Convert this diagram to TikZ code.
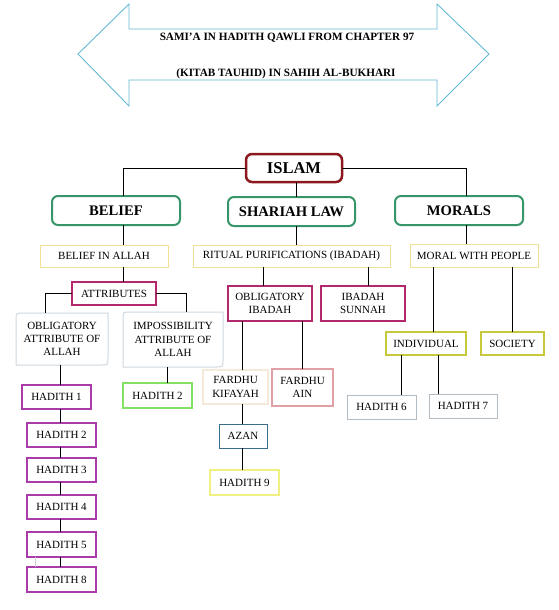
\documentclass[tikz,border=0pt]{standalone}
\usepackage{fontspec}
\setmainfont{Liberation Serif}

\definecolor{arrowblue}{RGB}{100,185,212}
\definecolor{islamred}{RGB}{140,25,30}
\definecolor{headgreen}{RGB}{55,150,105}
\definecolor{paleyellow}{RGB}{240,225,150}
\definecolor{attrpink}{RGB}{180,40,110}
\definecolor{palegray}{RGB}{205,216,224}
\definecolor{hadithpurple}{RGB}{170,60,170}
\definecolor{brightgreen}{RGB}{130,225,100}
\definecolor{peach}{RGB}{245,233,215}
\definecolor{salmon}{RGB}{225,160,165}
\definecolor{azanblue}{RGB}{60,110,140}
\definecolor{lemon}{RGB}{240,240,130}
\definecolor{olive}{RGB}{200,200,60}
\definecolor{steel}{RGB}{180,188,195}

\begin{document}
\begin{tikzpicture}[x=1pt, y=-1pt,
  every node/.style={inner sep=0pt, outer sep=0pt, align=center, font=\fontsize{11}{13.3}\selectfont},
  box/.style={below right, draw, line width=1pt},
  headbox/.style={box, draw=headgreen, line width=2pt, rounded corners=6pt, font=\fontsize{14.6}{16}\selectfont\bfseries},
  link/.style={line width=0.9pt, black},
  hadith/.style={box, draw=hadithpurple, line width=1.2pt, minimum width=69pt, minimum height=24pt}]

\useasboundingbox (0,0) rectangle (558,610);

% Title double arrow
\draw[arrowblue, line width=0.9pt, line join=miter] (78,54) -- (129,4) -- (129,29) -- (437,29) -- (437,4) -- (489,54) -- (437,106) -- (437,80) -- (129,80) -- (129,106) -- cycle;
\node[anchor=base, font=\fontsize{11.2}{13}\selectfont\bfseries] (title1) at (287,41) {SAMI’A IN HADITH QAWLI FROM CHAPTER 97};
\node[anchor=base, font=\fontsize{11.2}{13}\selectfont\bfseries] (title2) at (286,77) {(KITAB TAUHID) IN SAHIH AL-BUKHARI};

% Top box
\node[box, draw=islamred, line width=2.5pt, rounded corners=6pt, minimum width=96pt, minimum height=28pt, font=\fontsize{16.5}{18}\selectfont\bfseries] (islam) at (246,154) {ISLAM};

% Three headings
\node[headbox, minimum width=128pt, minimum height=29pt] (belief) at (52,196) {BELIEF};
\node[headbox, minimum width=127pt, minimum height=29pt] (shariah) at (228,197) {SHARIAH LAW};
\node[headbox, minimum width=128pt, minimum height=29pt] (morals) at (395,196) {MORALS};

% Yellow second row
\node[box, draw=paleyellow, minimum width=128pt, minimum height=22pt] (allah) at (40,245) {BELIEF IN ALLAH};
\node[box, draw=paleyellow, minimum width=197pt, minimum height=22pt] (ritual) at (193,245) {RITUAL PURIFICATIONS (IBADAH)};
\node[box, draw=paleyellow, minimum width=128pt, minimum height=23pt] (people) at (410,244) {MORAL WITH PEOPLE};

% Belief branch
\node[box, draw=attrpink, line width=2pt, minimum width=84pt, minimum height=23pt] (attrib) at (72,282) {ATTRIBUTES};
\node[below right, minimum width=92pt, minimum height=52pt] (wajib) at (16,313) {OBLIGATORY\\ATTRIBUTE OF\\ALLAH};
\node[below right, minimum width=100pt, minimum height=55pt] (mustahil) at (123,312) {IMPOSSIBILITY\\ATTRIBUTE OF\\ALLAH};
\draw[palegray, line width=1pt] ([xshift=7pt]wajib.north west) -- (wajib.north east) -- ([yshift=7pt]wajib.south east) .. controls (wajib.south east) .. ([xshift=-7pt]wajib.south east) -- (wajib.south west) -- ([yshift=-7pt]wajib.north west) .. controls (wajib.north west) .. ([xshift=7pt]wajib.north west);
\draw[palegray, line width=1pt] ([xshift=7pt]mustahil.north west) -- (mustahil.north east) -- ([yshift=7pt]mustahil.south east) .. controls (mustahil.south east) .. ([xshift=-7pt]mustahil.south east) -- (mustahil.south west) -- ([yshift=-7pt]mustahil.north west) .. controls (mustahil.north west) .. ([xshift=7pt]mustahil.north west);

\node[hadith] (h1) at (22,385) {HADITH 1};
\node[hadith] (h2) at (27,423) {HADITH 2};
\node[hadith] (h3) at (27,458) {HADITH 3};
\node[hadith] (h4) at (27,495) {HADITH 4};
\node[hadith, minimum height=25pt] (h5) at (27,532) {HADITH 5};
\node[hadith, minimum height=25pt] (h8) at (27,567) {HADITH 8};
\node[box, draw=brightgreen, line width=2pt, minimum width=69pt, minimum height=25pt] (h2r) at (123,383) {HADITH 2};

% Shariah branch
\node[box, draw=attrpink, line width=2pt, minimum width=84pt, minimum height=35pt] (oblig) at (228,286) {OBLIGATORY\\IBADAH};
\node[box, draw=attrpink, line width=2pt, minimum width=84pt, minimum height=35pt] (sunnah) at (321,286) {IBADAH\\SUNNAH};
\node[box, draw=peach, line width=2pt, minimum width=65pt, minimum height=34pt] (kifayah) at (203,370) {FARDHU\\KIFAYAH};
\node[box, draw=salmon, line width=2pt, minimum width=61pt, minimum height=37pt] (ain) at (272,369) {FARDHU\\AIN};
\node[box, draw=azanblue, minimum width=48pt, minimum height=24pt] (azan) at (219,424) {AZAN};
\node[box, draw=lemon, line width=1.5pt, minimum width=69pt, minimum height=25pt] (h9) at (210,470) {HADITH 9};

% Morals branch
\node[box, draw=olive, line width=2pt, minimum width=80pt, minimum height=23pt] (indiv) at (386,332) {INDIVIDUAL};
\node[box, draw=olive, line width=2pt, minimum width=63pt, minimum height=23pt] (society) at (481,332) {SOCIETY};
\node[box, draw=steel, minimum width=69pt, minimum height=24pt] (h6) at (347,395) {HADITH 6};
\node[box, draw=steel, minimum width=68pt, minimum height=24pt] (h7) at (429,394) {HADITH 7};

% Columns of the connectors
\coordinate (cb) at (123,0);
\coordinate (cl) at (45,0);
\coordinate (cr) at (186,0);
\coordinate (ch) at (60,0);
\coordinate (ci) at (167,0);
\coordinate (cs) at (296,0);
\coordinate (co) at (263,0);
\coordinate (cu) at (368,0);
\coordinate (ck) at (242,0);
\coordinate (ca) at (302,0);
\coordinate (cm) at (466,0);
\coordinate (cv) at (433,0);
\coordinate (cy) at (512,0);
\coordinate (c6) at (401,0);
\coordinate (c7) at (438,0);
\coordinate (cg) at (35,0);

% Connectors
\draw[link] (islam.west) -| (belief.north -| cb);
\draw[link] (islam.east) -| (morals.north -| cm);
\draw[link] (islam.south -| cs) -- (shariah.north -| cs);
\draw[link] (belief.south -| cb) -- (allah.north -| cb);
\draw[link] (allah.south -| cb) -- (attrib.north -| cb);
\draw[link] (attrib.west) -| (wajib.north -| cl);
\draw[link] (attrib.east) -| (mustahil.north -| cr);
\draw[link] (wajib.south -| ch) -- (h1.north -| ch);
\foreach \a/\b in {h1/h2, h2/h3, h3/h4, h4/h5, h5/h8}
  \draw[link] (\a.south -| ch) -- (\b.north -| ch);
\draw[gray!40, line width=0.6pt] (h5.south -| cg) -- (h8.north -| cg);
\draw[link] (mustahil.south -| ci) -- (h2r.north -| ci);

\draw[link] (shariah.south -| cs) -- (ritual.north -| cs);
\draw[link] (ritual.south -| co) -- (oblig.north -| co);
\draw[link] (ritual.south -| cu) -- (sunnah.north -| cu);
\draw[link] (oblig.south -| ck) -- (kifayah.north -| ck);
\draw[link] (oblig.south -| ca) -- (ain.north -| ca);
\draw[link] (kifayah.south -| ck) -- (azan.north -| ck);
\draw[link] (azan.south -| ck) -- (h9.north -| ck);

\draw[link] (morals.south -| cm) -- (people.north -| cm);
\draw[link] (people.south -| cv) -- (indiv.north -| cv);
\draw[link] (people.south -| cy) -- (society.north -| cy);
\draw[link] (indiv.south -| c6) -- (h6.north -| c6);
\draw[link] (indiv.south -| c7) -- (h7.north -| c7);

\end{tikzpicture}
\end{document}
